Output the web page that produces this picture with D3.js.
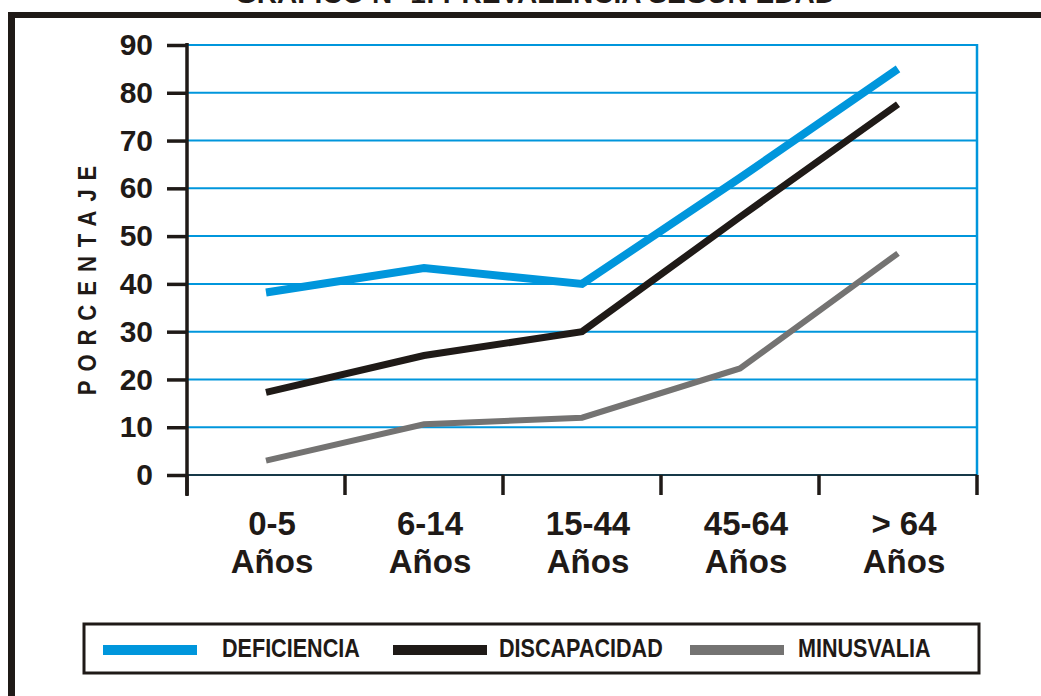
<!DOCTYPE html>
<html>
<head>
<meta charset="utf-8">
<script src="https://cdn.jsdelivr.net/npm/d3@7"></script>
<style>
html,body{margin:0;padding:0;background:#fff;}
svg{display:block;}
</style>
</head>
<body>
<svg id="chart" width="1041" height="696"></svg>
<script>
const categories = ["0-5", "6-14", "15-44", "45-64", "> 64"];
const catSub = ["Años", "Años", "Años", "Años", "Años"];
const deficiencia = [38.2, 43.3, 40, 62.2, 85];
const discapacidad = [17.3, 25, 30, 54, 77.6];
const minusvalia = [3, 10.6, 12, 22.3, 46.4];
const yTicks = [0, 10, 20, 30, 40, 50, 60, 70, 80, 90];
const seriesNames = ["DEFICIENCIA", "DISCAPACIDAD", "MINUSVALIA"];
const title = "GRÁFICO Nº 1: PREVALENCIA SEGÚN EDAD";
const yLabel = "PORCENTAJE";

const colors = ["#0096dc", "#1f1a17", "#747372"];
const widths = [8, 7, 6];
const series = [deficiencia, discapacidad, minusvalia];

const svg = d3.select("#chart");
const F = "'Liberation Sans', Arial, sans-serif";

const x = d3.scaleBand().domain(categories).range([187, 977]).paddingInner(0).paddingOuter(0);
const y = d3.scaleLinear().domain([0, 90]).range([475, 45]);

// frame
svg.append("line").attr("x1", 8).attr("x2", 1041).attr("y1", 15).attr("y2", 15)
  .attr("stroke", "#1f1a17").attr("stroke-width", 6);
svg.append("line").attr("x1", 11.5).attr("x2", 11.5).attr("y1", 12).attr("y2", 696)
  .attr("stroke", "#1f1a17").attr("stroke-width", 7);

// title (cut off at top as in the reference)
svg.append("text").attr("x", 535).attr("y", 3).attr("text-anchor", "middle")
  .attr("font-family", F).attr("font-weight", "bold").attr("font-size", 28)
  .attr("fill", "#1f1a17").text(title);

// gridlines
svg.append("g").selectAll("line").data(yTicks).join("line")
  .attr("x1", 187).attr("x2", 977)
  .attr("y1", d => y(d)).attr("y2", d => y(d))
  .attr("stroke", "#0096dc").attr("stroke-width", 2);
// right border
svg.append("line").attr("x1", 977).attr("x2", 977).attr("y1", y(90) - 1).attr("y2", y(0) + 1)
  .attr("stroke", "#0096dc").attr("stroke-width", 2.5);

// y axis
const yAxis = d3.axisLeft(y).tickValues(yTicks).tickSize(20).tickPadding(14).tickFormat(d3.format("d"));
const gy = svg.append("g").attr("transform", "translate(187,0)").call(yAxis);
gy.select(".domain").remove();
gy.selectAll(".tick line").attr("stroke", "#1f1a17").attr("stroke-width", 3.5);
gy.selectAll(".tick text").attr("font-family", F).attr("font-weight", "bold")
  .attr("font-size", 30).attr("fill", "#1f1a17");
svg.append("line").attr("x1", 187).attr("x2", 187).attr("y1", 43).attr("y2", 496)
  .attr("stroke", "#1f1a17").attr("stroke-width", 3.5);

// x axis ticks at band boundaries
const bounds = categories.map(c => x(c)).concat([x(categories[categories.length - 1]) + x.bandwidth()]);
svg.append("g").selectAll("line").data(bounds).join("line")
  .attr("x1", d => d).attr("x2", d => d).attr("y1", y(0)).attr("y2", y(0) + 20)
  .attr("stroke", "#1f1a17").attr("stroke-width", 3.5);
svg.append("line").attr("x1", 187).attr("x2", 977).attr("y1", y(0)).attr("y2", y(0))
  .attr("stroke", "#1f1a17").attr("stroke-width", 1.5);

// x labels
const gx = svg.append("g");
categories.forEach((c, i) => {
  const cx = x(c) + x.bandwidth() / 2 + 6;
  gx.append("text").attr("x", cx).attr("y", 535).attr("text-anchor", "middle")
    .attr("font-family", F).attr("font-weight", "bold").attr("font-size", 33)
    .attr("fill", "#1f1a17").text(c);
  gx.append("text").attr("x", cx).attr("y", 573).attr("text-anchor", "middle")
    .attr("font-family", F).attr("font-weight", "bold").attr("font-size", 33)
    .attr("fill", "#1f1a17").text(catSub[i]);
});

// y label (spaced capitals, slightly condensed)
svg.append("text").attr("transform", "translate(96,276) rotate(-90) scale(0.85,1)")
  .attr("text-anchor", "middle").attr("font-family", F).attr("font-weight", "bold")
  .attr("font-size", 26).attr("letter-spacing", 10.5).attr("fill", "#1f1a17")
  .text(yLabel);

// lines
const line = d3.line().x((d, i) => x(categories[i]) + x.bandwidth() / 2).y(d => y(d));
series.forEach((s, k) => {
  svg.append("path").datum(s).attr("d", line).attr("fill", "none")
    .attr("stroke", colors[k]).attr("stroke-width", widths[k])
    .attr("stroke-linejoin", "miter").attr("stroke-linecap", "butt");
});

// legend
svg.append("rect").attr("x", 84).attr("y", 624).attr("width", 895).attr("height", 49)
  .attr("fill", "none").attr("stroke", "#1f1a17").attr("stroke-width", 3);
const legX = [103, 393, 690];
const legTX = [222, 499, 798];
seriesNames.forEach((n, k) => {
  svg.append("rect").attr("x", legX[k]).attr("y", 645).attr("width", 94).attr("height", 10)
    .attr("fill", colors[k]);
  svg.append("text").attr("transform", `translate(${legTX[k]},657) scale(0.83,1)`)
    .attr("font-family", F).attr("font-weight", "bold").attr("font-size", 26)
    .attr("fill", "#1f1a17").text(n);
});
</script>
</body>
</html>
